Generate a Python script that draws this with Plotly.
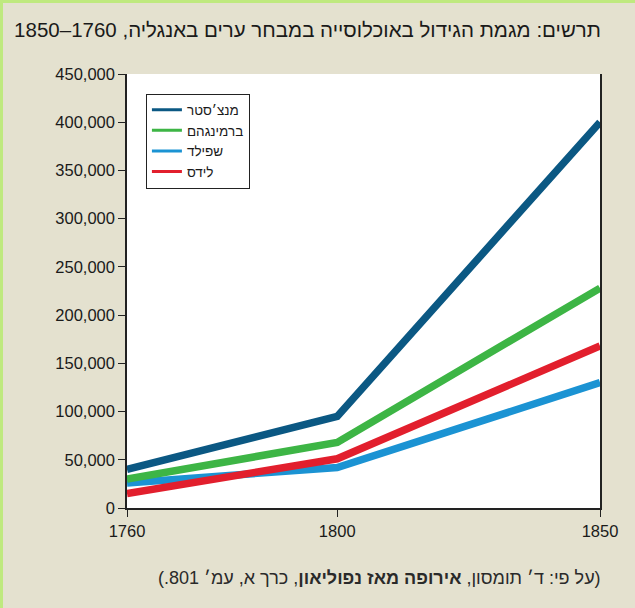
import plotly.graph_objects as go

# data
years = [1760, 1800, 1850]
cities = ["מנצ׳סטר", "ברמינגהם", "שפילד", "לידס"]
manchester = [40000, 95000, 400000]
birmingham = [30000, 68000, 228000]
sheffield = [26000, 42000, 130000]
leeds = [15000, 51000, 168000]
y_ticks = [0, 50000, 100000, 150000, 200000, 250000, 300000, 350000, 400000, 450000]

colors = ["#0b5883", "#3db545", "#1b93d3", "#e21f2d"]
series = [manchester, birmingham, sheffield, leeds]
RLM = "\u200f"

fig = go.Figure()

# draw order: sheffield, leeds, birmingham, manchester (as in the original)
for i in [2, 3, 1, 0]:
    fig.add_trace(go.Scatter(x=years, y=series[i], mode="lines",
                             line=dict(color=colors[i], width=7.5),
                             showlegend=False, hoverinfo="skip"))

# thin legend samples
for i in range(4):
    fig.add_trace(go.Scatter(x=[None], y=[None], mode="lines",
                             name=cities[i],
                             line=dict(color=colors[i], width=3)))

# green frame on top/left edge of the page
fig.add_shape(type="line", xref="paper", yref="paper",
              x0=-127/473, x1=508/473, y0=1+73/434, y1=1+73/434,
              line=dict(color="#bfe97f", width=4))
fig.add_shape(type="line", xref="paper", yref="paper",
              x0=-126/473, x1=-126/473, y0=-100/434, y1=1+74/434,
              line=dict(color="#bfe97f", width=4))

fig.add_annotation(text=RLM + "(על פי: ד׳ תומסון, <b>אירופה מאז נפוליאון</b>, כרך א, עמ׳ 801.)" + RLM,
                   xref="paper", yref="paper", x=1.007, y=-70/434,
                   xanchor="right", yanchor="middle", showarrow=False,
                   font=dict(size=18, color="#2a2a2a"))

fig.update_layout(
    title=dict(text=RLM + "תרשים: מגמת הגידול באוכלוסייה במבחר ערים באנגליה, 1760–1850" + RLM,
               x=601/635, xanchor="right", xref="container",
               y=1-30/608, yanchor="middle",
               font=dict(size=20.5, color="#1a1a1a")),
    font=dict(family="Arial, 'Liberation Sans', sans-serif", color="#1a1a1a"),
    paper_bgcolor="#e4e1cf",
    plot_bgcolor="white",
    width=635, height=608,
    margin=dict(l=127, r=35, t=74, b=100),
    xaxis=dict(range=[1760, 1850], tickvals=years, showgrid=False, zeroline=False,
               showline=True, linecolor="#222222", linewidth=1.5,
               ticks="outside", ticklen=7, tickcolor="#222222", tickwidth=1,
               tickfont=dict(size=16.5)),
    yaxis=dict(range=[0, 450000], tickvals=y_ticks, tickformat=",d",
               showgrid=False, zeroline=False,
               showline=True, mirror=True, linecolor="#222222", linewidth=1.5,
               ticks="outside", ticklen=7, tickcolor="#222222", tickwidth=1,
               tickfont=dict(size=16.5)),
    legend=dict(x=0.04, y=0.955, xanchor="left", yanchor="top",
                bgcolor="white", bordercolor="#222222", borderwidth=1,
                font=dict(size=13.5), tracegroupgap=0),
)

fig.write_html("out.html", config={"displayModeBar": False},
               post_script="document.body.style.margin='0';")
